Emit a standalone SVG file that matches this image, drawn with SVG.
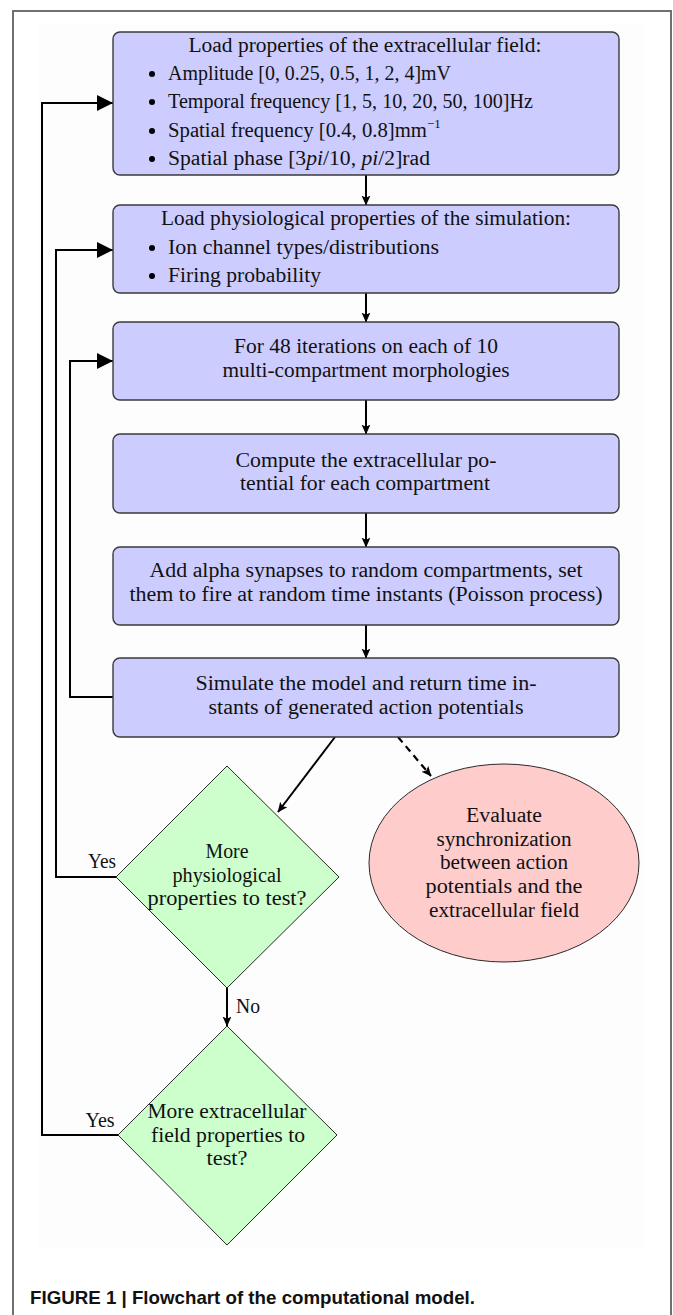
<svg xmlns="http://www.w3.org/2000/svg" width="673" height="1315" viewBox="0 0 673 1315">
<defs>
<style>
.box{fill:#ccccff;stroke:#3a3a3a;stroke-width:1.4}
.dia{fill:#ccffcc;stroke:#2a2a2a;stroke-width:1}
.ell{fill:#ffcccc;stroke:#2a2a2a;stroke-width:1}
.t{font-family:"Liberation Serif","Times New Roman",serif;font-size:20px;fill:#111}
.c{text-anchor:middle}
.line{fill:none;stroke:#000;stroke-width:2}
.dash{fill:none;stroke:#000;stroke-width:2.2;stroke-dasharray:7 5}
.cap{font-family:"Liberation Sans",Arial,sans-serif;font-size:18.5px;font-weight:bold;fill:#111}
</style>
<marker id="big" markerUnits="userSpaceOnUse" markerWidth="16" markerHeight="16" viewBox="0 0 14 14" refX="14" refY="7" orient="auto">
<path d="M0,0 L14,7 L0,14 z" fill="#000"/>
</marker>
<marker id="small" markerUnits="userSpaceOnUse" markerWidth="10" markerHeight="10" viewBox="0 0 9 9" refX="8.5" refY="4.5" orient="auto">
<path d="M0,0.5 L9,4.5 L0,8.5 L2,4.5 z" fill="#000"/>
</marker>
</defs>
<rect x="0" y="0" width="673" height="1315" fill="#ffffff"/>
<rect x="38" y="24" width="606" height="1224" fill="#fdfdfe"/>
<path d="M13,1315 V11 H671 V1315" fill="none" stroke="#707070" stroke-width="2"/>

<g id="connectors">
<path class="line" d="M366,175 V205" marker-end="url(#small)"/>
<path class="line" d="M366,293 V322" marker-end="url(#small)"/>
<path class="line" d="M366,400 V434" marker-end="url(#small)"/>
<path class="line" d="M366,513 V547" marker-end="url(#small)"/>
<path class="line" d="M366,625 V658" marker-end="url(#small)"/>
<path class="line" d="M335,737 L278,812" marker-end="url(#small)"/>
<path class="dash" d="M398,737 L431,776" marker-end="url(#small)"/>
<path class="line" d="M227,988 V1026" marker-end="url(#small)"/>
<path class="line" d="M118,1135 H42 V103 H113" marker-end="url(#big)"/>
<path class="line" d="M117,877 H56 V250 H113" marker-end="url(#big)"/>
<path class="line" d="M113,697 H70 V361 H113" marker-end="url(#big)"/>
<text class="t" x="236" y="1013" textLength="24" lengthAdjust="spacingAndGlyphs">No</text>
<text class="t c" x="102" y="868" textLength="28" lengthAdjust="spacingAndGlyphs">Yes</text>
<text class="t c" x="100" y="1127" textLength="29" lengthAdjust="spacingAndGlyphs">Yes</text>
</g>

<g id="node1">
<rect class="box" x="113" y="32" width="506" height="143" rx="7"/>
<text class="t c" x="365" y="52" textLength="353" lengthAdjust="spacingAndGlyphs">Load properties of the extracellular field:</text>
<circle cx="152" cy="74" r="3"/>
<text class="t" x="168" y="80" textLength="283" lengthAdjust="spacingAndGlyphs">Amplitude [0, 0.25, 0.5, 1, 2, 4]mV</text>
<circle cx="152" cy="102" r="3"/>
<text class="t" x="168" y="108" textLength="365" lengthAdjust="spacingAndGlyphs">Temporal frequency [1, 5, 10, 20, 50, 100]Hz</text>
<circle cx="152" cy="131" r="3"/>
<text class="t" x="168" y="137"><tspan textLength="259" lengthAdjust="spacingAndGlyphs">Spatial frequency [0.4, 0.8]mm</tspan><tspan dy="-9" font-size="13">−1</tspan></text>
<circle cx="152" cy="159" r="3"/>
<text class="t" x="168" y="165" textLength="262" lengthAdjust="spacingAndGlyphs">Spatial phase [3<tspan font-style="italic">pi</tspan>/10, <tspan font-style="italic">pi</tspan>/2]rad</text>
</g>

<g id="node2">
<rect class="box" x="113" y="205" width="506" height="88" rx="7"/>
<text class="t c" x="366" y="225" textLength="410" lengthAdjust="spacingAndGlyphs">Load physiological properties of the simulation:</text>
<circle cx="152" cy="248" r="3"/>
<text class="t" x="168" y="254" textLength="271" lengthAdjust="spacingAndGlyphs">Ion channel types/distributions</text>
<circle cx="152" cy="276" r="3"/>
<text class="t" x="168" y="282" textLength="153" lengthAdjust="spacingAndGlyphs">Firing probability</text>
</g>

<g id="node3">
<rect class="box" x="113" y="322" width="506" height="78" rx="7"/>
<text class="t c" x="366" y="353" textLength="264" lengthAdjust="spacingAndGlyphs">For 48 iterations on each of 10</text>
<text class="t c" x="366" y="377" textLength="287" lengthAdjust="spacingAndGlyphs">multi-compartment morphologies</text>
</g>

<g id="node4">
<rect class="box" x="113" y="434" width="506" height="79" rx="7"/>
<text class="t c" x="366" y="467" textLength="261" lengthAdjust="spacingAndGlyphs">Compute the extracellular po-</text>
<text class="t c" x="365" y="490" textLength="250" lengthAdjust="spacingAndGlyphs">tential for each compartment</text>
</g>

<g id="node5">
<rect class="box" x="113" y="547" width="506" height="78" rx="7"/>
<text class="t c" x="366" y="577" textLength="433" lengthAdjust="spacingAndGlyphs">Add alpha synapses to random compartments, set</text>
<text class="t c" x="366" y="601" textLength="473" lengthAdjust="spacingAndGlyphs">them to fire at random time instants (Poisson process)</text>
</g>

<g id="node6">
<rect class="box" x="113" y="658" width="506" height="79" rx="7"/>
<text class="t c" x="366" y="690" textLength="341" lengthAdjust="spacingAndGlyphs">Simulate the model and return time in-</text>
<text class="t c" x="366" y="714" textLength="315" lengthAdjust="spacingAndGlyphs">stants of generated action potentials</text>
</g>

<g id="decision1">
<path class="dia" d="M227,766 L339,877 L227,988 L116,877 z"/>
<text class="t c" x="227" y="858" textLength="43" lengthAdjust="spacingAndGlyphs">More</text>
<text class="t c" x="227" y="882" textLength="109" lengthAdjust="spacingAndGlyphs">physiological</text>
<text class="t c" x="227" y="905" textLength="159" lengthAdjust="spacingAndGlyphs">properties to test?</text>
</g>

<g id="evaluate">
<ellipse class="ell" cx="504" cy="863" rx="135" ry="99"/>
<text class="t c" x="504" y="822" textLength="76" lengthAdjust="spacingAndGlyphs">Evaluate</text>
<text class="t c" x="504" y="846" textLength="135" lengthAdjust="spacingAndGlyphs">synchronization</text>
<text class="t c" x="504" y="869" textLength="128" lengthAdjust="spacingAndGlyphs">between action</text>
<text class="t c" x="504" y="893" textLength="157" lengthAdjust="spacingAndGlyphs">potentials and the</text>
<text class="t c" x="504" y="917" textLength="150" lengthAdjust="spacingAndGlyphs">extracellular field</text>
</g>

<g id="decision2">
<path class="dia" d="M227,1026 L337,1135 L227,1245 L118,1135 z"/>
<text class="t c" x="227" y="1118" textLength="159" lengthAdjust="spacingAndGlyphs">More extracellular</text>
<text class="t c" x="228" y="1142" textLength="154" lengthAdjust="spacingAndGlyphs">field properties to</text>
<text class="t c" x="227" y="1165" textLength="41" lengthAdjust="spacingAndGlyphs">test?</text>
</g>

<g id="caption">
<text class="cap" x="30" y="1304" textLength="445" lengthAdjust="spacingAndGlyphs">FIGURE 1 | Flowchart of the computational model.</text>
</g>
</svg>
